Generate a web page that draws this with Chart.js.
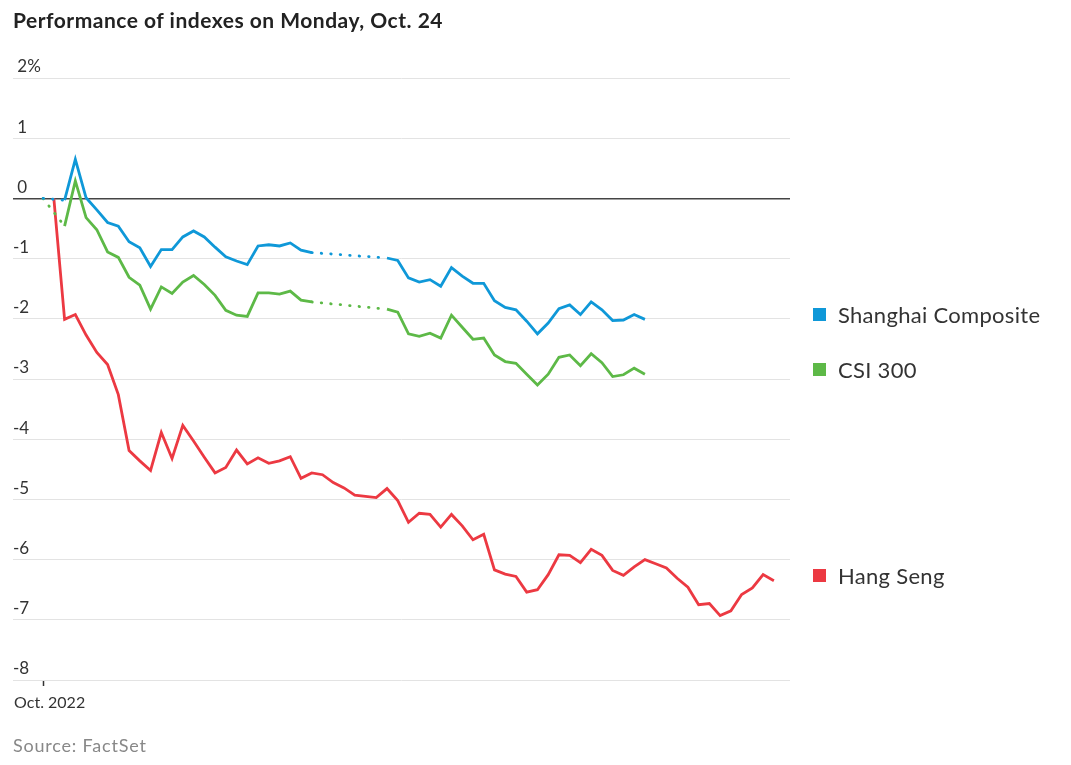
<!DOCTYPE html>
<html><head><meta charset="utf-8">
<script src="https://cdn.jsdelivr.net/npm/chart.js@4.4.0/dist/chart.umd.min.js"></script>
<style>
html,body{margin:0;padding:0;background:#fff;}
#wrap{position:relative;width:1071px;height:765px;font-family:Lato,"Noto Sans",sans-serif;overflow:hidden;}
#c{position:absolute;left:0;top:0;width:1071px;height:765px;}
#title{position:absolute;left:13px;top:7px;font-size:21px;letter-spacing:0.5px;font-weight:700;color:#222;white-space:nowrap;}
#source{position:absolute;left:13px;top:734px;font-size:18px;letter-spacing:0.8px;color:#888;white-space:nowrap;}
.leg{position:absolute;left:813px;height:26px;font-size:22px;letter-spacing:0.3px;color:#333;display:flex;align-items:center;white-space:nowrap;}
.leg i{display:inline-block;width:13px;height:13px;margin-right:12px;}
</style></head>
<body><div id="wrap"><canvas id="c" width="1071" height="765"></canvas>
<div id="title">Performance of indexes on Monday, Oct. 24</div>
<div id="legend"></div>
<div id="source">Source: FactSet</div></div>
<script>
// time steps (intraday observations)
const steps = Array.from({length: 69}, (_, i) => i);
const seriesNames = ['Shanghai Composite', 'CSI 300', 'Hang Seng'];
const seriesColors = ['#0f98d8', '#5db947', '#ec3942'];
const shanghai = [0, null, -0.03, 0.65, 0.01, -0.19, -0.40, -0.46, -0.72, -0.82, -1.13, -0.85, -0.85, -0.64, -0.54, -0.64, -0.81, -0.97, -1.04, -1.10, -0.79, -0.77, -0.79, -0.74, -0.86, -0.90,
  null, null, null, null, null, null,
  -0.99, -1.03, -1.32, -1.39, -1.35, -1.46, -1.15, -1.29, -1.41, -1.41, -1.70, -1.81, -1.85, -2.04, -2.25, -2.07, -1.83, -1.77, -1.93, -1.72, -1.85, -2.03, -2.02, -1.93, -2.01];
const csi300 = [0, null, -0.46, 0.29, -0.32, -0.52, -0.89, -0.98, -1.31, -1.44, -1.84, -1.47, -1.58, -1.39, -1.28, -1.43, -1.61, -1.86, -1.94, -1.96, -1.57, -1.57, -1.59, -1.54, -1.69, -1.72,
  null, null, null, null, null, null,
  -1.84, -1.89, -2.25, -2.29, -2.24, -2.32, -1.94, -2.14, -2.34, -2.32, -2.60, -2.71, -2.74, -2.92, -3.10, -2.92, -2.64, -2.60, -2.78, -2.58, -2.73, -2.96, -2.93, -2.82, -2.92];
const hangSeng = [null, 0, -2.01, -1.93, -2.27, -2.56, -2.76, -3.26, -4.19, -4.36, -4.52, -3.89, -4.32, -3.77, -4.03, -4.30, -4.56, -4.47, -4.18, -4.41, -4.31, -4.40, -4.36, -4.29, -4.65, -4.56, -4.59, -4.72, -4.81, -4.93, -4.95, -4.97,
  -4.82, -5.02, -5.38, -5.23, -5.25, -5.46, -5.25, -5.44, -5.67, -5.58, -6.17, -6.24, -6.28, -6.54, -6.50, -6.25, -5.92, -5.93, -6.05, -5.83, -5.93, -6.18, -6.26, -6.12, -6.00, -6.07, -6.14, -6.31, -6.46, -6.75, -6.73, -6.93, -6.85, -6.58, -6.47, -6.25, -6.35];
const yTicks = [2, 1, 0, -1, -2, -3, -4, -5, -6, -7, -8];
const xTickValues = [0];
const xTickLabels = ['Oct. 2022'];

const seriesData = [shanghai, csi300, hangSeng];
const skipped = (ctx, v) => ctx.p0.skip || ctx.p1.skip ? v : undefined;

const datasets = seriesData.map((d, i) => ({
  label: seriesNames[i],
  data: d,
  borderColor: seriesColors[i],
  backgroundColor: seriesColors[i],
  borderWidth: 2.8,
  pointRadius: 0,
  pointHoverRadius: 0,
  tension: 0,
  spanGaps: true,
  segment: {
    borderDash: ctx => skipped(ctx, [0.5, 9]),
    borderCapStyle: ctx => skipped(ctx, 'round'),
  }
}));

const legendPlugin = {
  id: 'sideLegend',
  afterDraw(chart) {
    const box = document.getElementById('legend');
    box.innerHTML = '';
    const ys = chart.scales.y;
    seriesData.forEach((d, i) => {
      let last = null;
      for (let k = d.length - 1; k >= 0; k--) { if (d[k] !== null) { last = d[k]; break; } }
      const py = ys.getPixelForValue(last) - 5;
      const el = document.createElement('div');
      el.className = 'leg';
      el.style.top = (py - 13) + 'px';
      el.innerHTML = '<i style="background:' + seriesColors[i] + '"></i>' + seriesNames[i];
      box.appendChild(el);
    });
  }
};

new Chart(document.getElementById('c'), {
  type: 'line',
  data: { labels: steps, datasets },
  plugins: [legendPlugin],
  options: {
    responsive: false,
    animation: false,
    devicePixelRatio: 1,
    events: [],
    layout: { padding: { left: 13, right: 281, top: 78, bottom: 55 } },
    plugins: { legend: { display: false }, tooltip: { enabled: false }, title: { display: false } },
    scales: {
      x: {
        type: 'linear',
        min: -2.8,
        max: 69.5,
        afterBuildTicks: s => { s.ticks = xTickValues.map(v => ({ value: v })); },
        afterFit: s => { s.height = 30; s.paddingLeft = 0; s.paddingRight = 0; },
        border: { display: false },
        grid: {
          drawOnChartArea: false, drawTicks: true, tickLength: 6, tickWidth: 1.5,
          tickColor: '#333'
        },
        ticks: {
          align: 'start',
          labelOffset: -29,
          padding: 7,
          maxRotation: 0,
          autoSkip: false,
          color: '#333',
          font: { family: 'Lato', size: 16 },
          callback: v => xTickLabels[xTickValues.indexOf(v)] ?? ''
        }
      },
      y: {
        min: -8,
        max: 2,
        afterBuildTicks: s => { s.ticks = yTicks.map(v => ({ value: v })); },
        afterFit: s => { s.width = 0; },
        border: { display: false },
        grid: {
          drawTicks: false,
          color: c => c.tick && c.tick.value === 0 ? '#444' : '#e3e3e3',
          lineWidth: c => c.tick && c.tick.value === 0 ? 1.5 : 1
        },
        ticks: {
          mirror: true,
          padding: 0,
          labelOffset: -11,
          color: '#333',
          font: { family: 'Lato', size: 17 },
          callback: v => v === 2 ? ' 2%' : (v < 0 ? '-' + Math.abs(v) : ' ' + v)
        }
      }
    }
  }
});
</script>
</body></html>
